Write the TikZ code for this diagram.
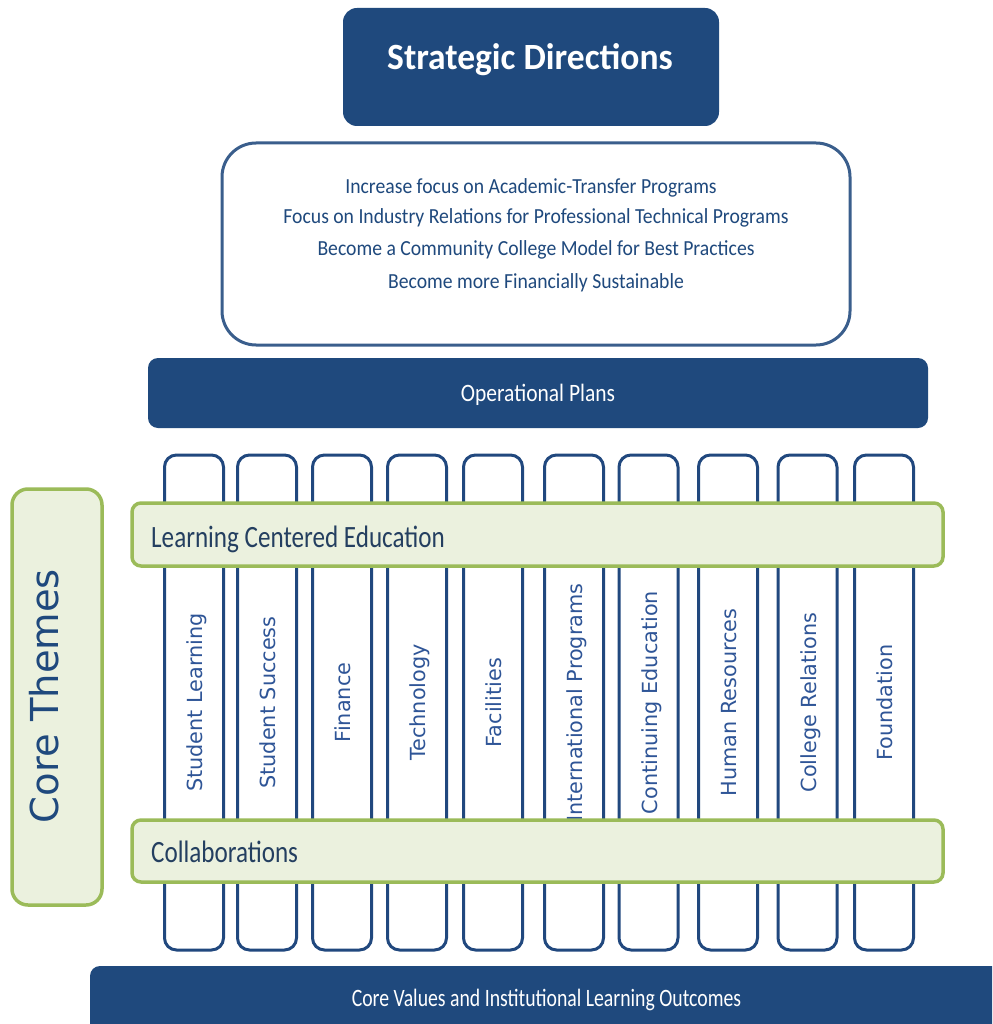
\documentclass[tikz,border=0pt]{standalone}
\usepackage{graphicx}
\usepackage{fontspec}
\setmainfont{Carlito}
\newfontfamily\verd{DejaVu Sans}
\definecolor{navy}{HTML}{1F497D}
\definecolor{boxline}{HTML}{3A5E8C}
\definecolor{colline}{HTML}{21487E}
\definecolor{leaf}{HTML}{9BBB59}
\definecolor{sage}{HTML}{EBF1DE}
\definecolor{bandtext}{HTML}{243F60}
\definecolor{coltext}{HTML}{2F5597}
\newcommand\hsqz[2]{\scalebox{#1}[1]{#2}}
\tikzset{
  navybar/.style={fill=navy, draw=none, rounded corners=10pt, inner sep=0pt},
  greenband/.style={fill=sage, draw=leaf, line width=3.5pt, rounded corners=9pt, inner sep=0pt},
  pillar/.style={fill=white, draw=colline, line width=3pt, rounded corners=12pt,
                 minimum width=59pt, minimum height=495pt, inner sep=0pt},
  pillartext/.style={anchor=base, rotate=90, inner sep=0pt, text=coltext,
                     font=\verd\fontsize{20.8}{20.8}\selectfont},
  lbl/.style={anchor=base, inner sep=0pt},
}
\begin{document}
\begin{tikzpicture}[x=1pt, y=-1pt]
\clip (0,0) rectangle (992,1024);
\fill[white] (0,0) rectangle (992,1024);

% Title block
\node[navybar, rounded corners=14pt, minimum width=376pt, minimum height=118pt] (title) at (531,67) {};
\node[lbl, text=white, font=\bfseries\fontsize{37}{37}\selectfont] (titletxt) at (530,70) {\hsqz{0.96}{Strategic Directions}};

% Strategic directions list
\node[draw=boxline, fill=white, line width=3pt, rounded corners=34pt,
      minimum width=628pt, minimum height=202pt, inner sep=0pt] (dirs) at (536,244) {};
\begin{scope}[every node/.style={lbl, text=navy, font=\fontsize{21.5}{21.5}\selectfont}]
  \node (d1) at (531,194) {\hsqz{0.915}{Increase focus on Academic-Transfer Programs}};
  \node (d2) at (536,224) {\hsqz{0.915}{Focus on Industry Relations for Professional Technical Programs}};
  \node (d3) at (536,255) {\hsqz{0.915}{Become a Community College Model for Best Practices}};
  \node (d4) at (536,288) {\hsqz{0.915}{Become more Financially Sustainable}};
\end{scope}

% Operational plans bar
\node[navybar, minimum width=780pt, minimum height=70pt] (ops) at (538,393) {};
\node[lbl, text=white, font=\fontsize{25}{25}\selectfont] (opstxt) at (538,401) {\hsqz{0.86}{Operational Plans}};

% Pillars
\foreach \cx/\name/\txt in {194/p1/Student Learning, 267/p2/Student Success, 342/p3/Finance,
    417/p4/Technology, 493/p5/Facilities, 574/p6/International Programs,
    648.5/p7/Continuing Education, 728/p8/Human Resources, 807.5/p9/College Relations,
    884/p10/Foundation}{
  \node[pillar] (\name) at (\cx,702.5) {};
  \node[pillartext] (\name txt) at (\cx+8.5,702.5) {\txt};
}

% Core theme bands
\node[greenband, minimum width=811pt, minimum height=63pt] (lce) at (537.5,534.5) {};
\node[lbl, anchor=base west, text=bandtext, font=\fontsize{31}{31}\selectfont] (lcetxt) at (151,547) {\hsqz{0.81}{Learning Centered Education}};
\node[greenband, minimum width=811pt, minimum height=62pt] (collab) at (537.5,851) {};
\node[lbl, anchor=base west, text=bandtext, font=\fontsize{31}{31}\selectfont] (collabtxt) at (151,862) {\hsqz{0.81}{Collaborations}};

% Core themes side label
\node[greenband, rounded corners=16pt, minimum width=90pt, minimum height=416pt] (core) at (57,697) {};
\node[lbl, rotate=90, text=navy, font=\verd\fontsize{38.5}{38.5}\selectfont] (coretxt) at (58,696) {Core Themes};

% Foundation bar
\node[navybar, minimum width=920pt, minimum height=74pt] (values) at (550,1003) {};
\node[lbl, text=white, font=\fontsize{25}{25}\selectfont] (valuestxt) at (546.5,1006) {\hsqz{0.79}{Core Values and Institutional Learning Outcomes}};
\end{tikzpicture}
\end{document}
